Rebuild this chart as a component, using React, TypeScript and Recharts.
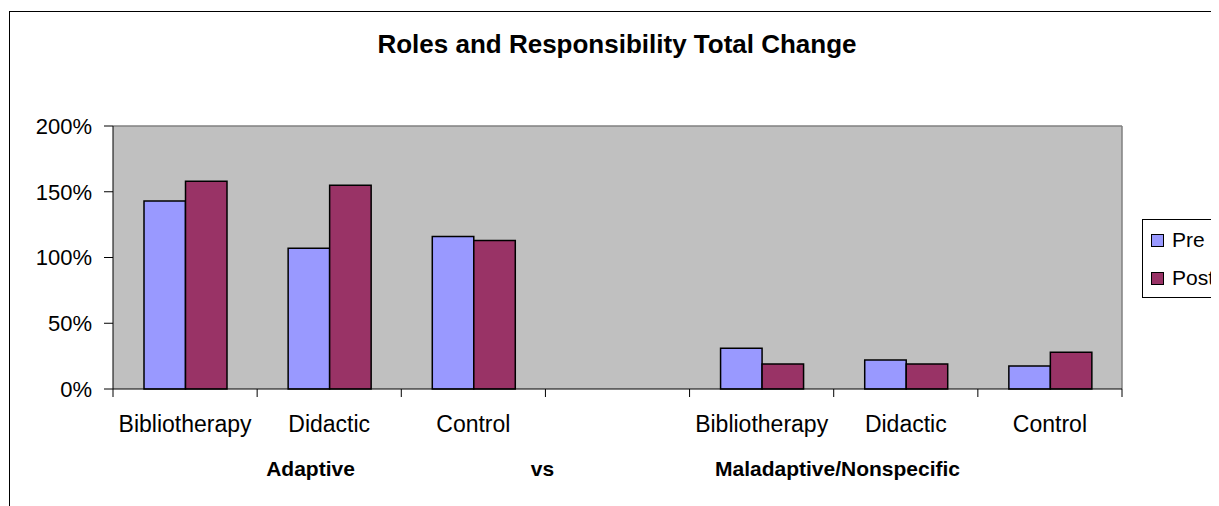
import { BarChart, Bar, XAxis, YAxis, CartesianGrid } from "recharts";

const categories = ["Bibliotherapy", "Didactic", "Control", "", "Bibliotherapy", "Didactic", "Control"];
const preValues = [143, 107, 116, null, 31, 22, 17.5];
const postValues = [158, 155, 113, null, 19, 19, 28];
const yTicks = [0, 50, 100, 150, 200];
const groupLabels = [
  { text: "Adaptive", dx: -307 },
  { text: "vs", dx: -75 },
  { text: "Maladaptive/Nonspecific", dx: 220 },
];

const data = categories.map((name, i) => ({ name, pre: preValues[i], post: postValues[i] }));

const FONT = "Arial, 'Liberation Sans', sans-serif";
const PRE = "#9999FF";
const POST = "#993366";

const CategoryTick = (props: any) => {
  const { x, y, payload, index } = props;
  const half = payload?.offset ?? 72;
  return (
    <g>
      <line x1={x - half} y1={y - 8} x2={x - half} y2={y} stroke="#000" />
      {index === categories.length - 1 && (
        <line x1={x + half} y1={y - 8} x2={x + half} y2={y} stroke="#000" />
      )}
      <text x={x} y={y + 35} textAnchor="middle" fontSize={23} fontFamily={FONT} fill="#000">
        {payload.value}
      </text>
    </g>
  );
};

const GroupLabel = (props: any) => {
  const { viewBox } = props;
  const cx = viewBox.x + viewBox.width / 2;
  return (
    <g>
      {groupLabels.map((g) => (
        <text key={g.text} x={cx + g.dx} y={viewBox.y + 87} textAnchor="middle" fontSize={21} fontWeight="bold" fontFamily={FONT} fill="#000">
          {g.text}
        </text>
      ))}
    </g>
  );
};

const LegendBox = () => (
  <div style={{ position: "absolute", left: 1132, top: 207, width: 90, height: 77, border: "1px solid #000", background: "#fff", fontFamily: FONT, fontSize: 21 }}>
    {[
      { label: "Pre", color: PRE },
      { label: "Post", color: POST },
    ].map((item, i) => (
      <div key={item.label} style={{ position: "absolute", left: 8, top: 8 + i * 38, height: 24, display: "flex", alignItems: "center" }}>
        <span style={{ width: 11, height: 11, background: item.color, border: "1px solid #000", display: "inline-block", marginRight: 8 }} />
        <span style={{ lineHeight: "24px" }}>{item.label}</span>
      </div>
    ))}
  </div>
);

export default function App() {
  return (
    <div style={{ width: 1211, height: 498, overflow: "hidden", paddingTop: 3, paddingLeft: 1, boxSizing: "border-box" }}>
      <div style={{ position: "relative", width: 1260, height: 520, borderLeft: "1px solid #000", borderTop: "1px solid #000", background: "#fff" }}>
        <div style={{ position: "absolute", left: 0, width: 1214, top: 19, textAlign: "center", fontFamily: FONT, fontWeight: "bold", fontSize: 26, lineHeight: "26px" }}>
          Roles and Responsibility Total Change
        </div>
        <BarChart width={1250} height={500} data={data} margin={{ top: 114, right: 138, left: 0, bottom: 63 }} barGap={0} barSize={41.5}>
          <CartesianGrid
            fill="#C0C0C0"
            stroke="#808080"
            strokeWidth={1.5}
            horizontalCoordinatesGenerator={({ offset }: any) => [offset.top]}
            verticalCoordinatesGenerator={({ offset }: any) => [offset.left + offset.width]}
          />
          <XAxis
            dataKey="name"
            stroke="#000"
            height={60}
            tickLine={false}
            tickSize={8}
            tickMargin={0}
            tick={<CategoryTick />}
            interval={0}
            label={<GroupLabel />}
          />
          <YAxis
            width={103}
            domain={[0, 200]}
            ticks={yTicks}
            stroke="#000"
            tickSize={9}
            tickMargin={12}
            tickFormatter={(v: number) => `${v}%`}
            tick={{ fill: "#000", fontSize: 22, fontFamily: FONT }}
          />
          <Bar dataKey="pre" fill={PRE} stroke="#000" strokeWidth={1.5} isAnimationActive={false} />
          <Bar dataKey="post" fill={POST} stroke="#000" strokeWidth={1.5} isAnimationActive={false} />
        </BarChart>
        <LegendBox />
      </div>
    </div>
  );
}
